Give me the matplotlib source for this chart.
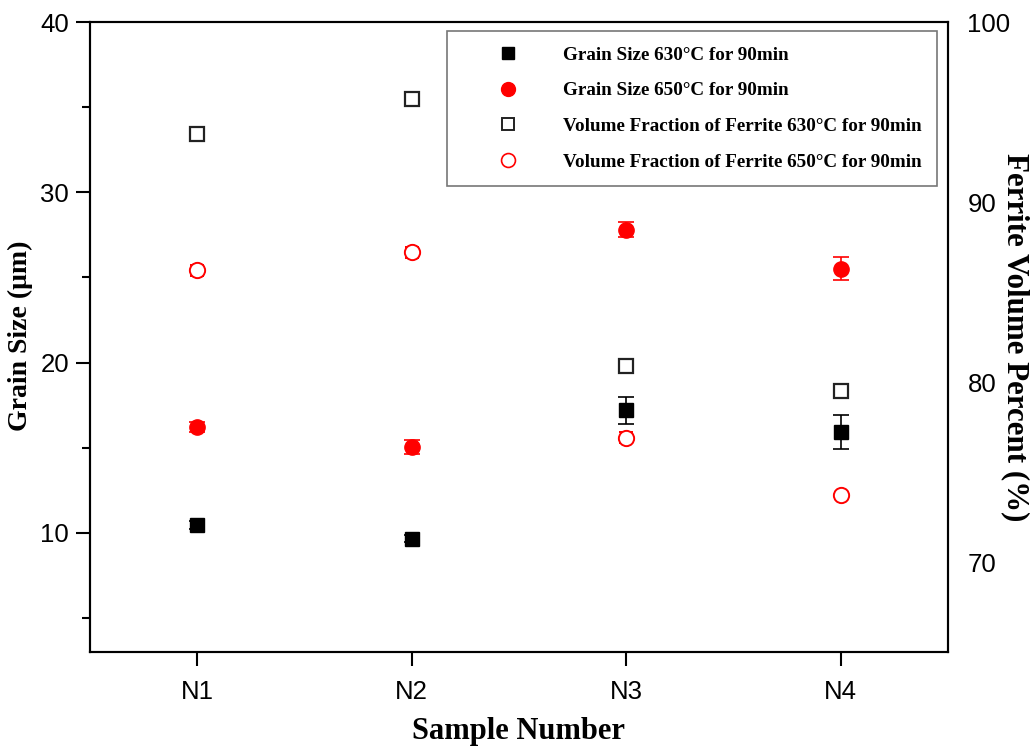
import matplotlib.pyplot as plt
from matplotlib.lines import Line2D
from matplotlib.ticker import MultipleLocator

# Sample positions and labels
samples = ['N1', 'N2', 'N3', 'N4']
x = [1, 2, 3, 4]

# Grain size (um), left axis
grain_630 = [10.45, 9.65, 17.2, 15.9]
grain_630_err = [0.25, 0.2, 0.8, 1.0]
grain_650 = [16.2, 15.05, 27.8, 25.5]
grain_650_err = [0.3, 0.4, 0.45, 0.68]

# Ferrite volume percent, right axis
ferrite_630 = [93.8, 95.7, 80.9, 79.5]
ferrite_630_err = [0.3, 0.2, 0.3, 0.0]
ferrite_650 = [86.2, 87.2, 76.9, 73.7]
ferrite_650_err = [0.3, 0.3, 0.3, 0.2]

legend_labels = ['Grain Size 630\u00b0C for 90min',
                 'Grain Size 650\u00b0C for 90min',
                 'Volume Fraction of Ferrite 630\u00b0C for 90min',
                 'Volume Fraction of Ferrite 650\u00b0C for 90min']

plt.rcParams['font.family'] = 'Liberation Sans'

fig = plt.figure(figsize=(10.36, 7.51), dpi=100)
ax = fig.add_axes([0.0869, 0.1318, 0.8281, 0.8389])
ax2 = ax.twinx()

ax.errorbar(x, grain_630, yerr=grain_630_err, fmt='s', color='black',
            ms=10, capsize=6, elinewidth=1.2, capthick=1.2)
ax.errorbar(x, grain_650, yerr=grain_650_err, fmt='o', color='red',
            ms=11, capsize=6, elinewidth=1.2, capthick=1.2)
ax2.errorbar(x, ferrite_630, yerr=ferrite_630_err, fmt='s', color='#222222',
             mfc='white', mew=1.6, ms=10, capsize=5, elinewidth=1.0, capthick=1.0)
ax2.errorbar(x, ferrite_650, yerr=ferrite_650_err, fmt='o', color='red',
             mfc='white', mew=1.4, ms=11, capsize=5, elinewidth=1.0, capthick=1.0)

# Left axis
ax.set_xlim(0.5, 4.5)
ax.set_ylim(3, 40)
ax.set_xticks(x)
ax.set_xticklabels(samples)
ax.yaxis.set_major_locator(MultipleLocator(10))
ax.yaxis.set_minor_locator(MultipleLocator(5))
ax.tick_params(axis='both', which='major', direction='out', length=10, width=1.5,
               labelsize=18.5, pad=5)
ax.tick_params(axis='y', which='minor', direction='out', length=6, width=1.5)
ax.tick_params(axis='x', which='minor', length=0)
ax.tick_params(axis='x', pad=10)

# Right axis
ax2.set_ylim(65, 100)
ax2.set_yticks([70, 80, 90, 100])
ax2.tick_params(axis='y', length=0, labelsize=18.5, pad=14)

for a in (ax, ax2):
    for s in a.spines.values():
        s.set_linewidth(1.5)

# Axis titles
fig.text(20 / 1036, 1 - 336 / 751, 'Grain Size (\u03bcm)', family='Liberation Serif',
         weight='bold', fontsize=20, rotation=90, ha='center', va='center')
fig.text(519 / 1036, 1 - 731 / 751, 'Sample Number', family='Liberation Serif',
         weight='bold', fontsize=22, ha='center', va='center')
fig.text(1015 / 1036, 1 - 337 / 751, 'Ferrite Volume Percent (%)',
         family='Liberation Serif', weight='bold', fontsize=22.3, rotation=-90,
         ha='center', va='center')

# Legend with marker-only handles
handles = [
    Line2D([], [], ls='none', marker='s', color='black', ms=8.5),
    Line2D([], [], ls='none', marker='o', color='red', ms=10),
    Line2D([], [], ls='none', marker='s', color='#222222', mfc='white', mew=1.4, ms=8.5),
    Line2D([], [], ls='none', marker='o', color='red', mfc='white', mew=1.2, ms=10),
]
leg = ax.legend(handles, legend_labels,
                loc='upper right', bbox_to_anchor=(0.9044, 0.9587),
                bbox_transform=fig.transFigure, frameon=True, fancybox=False,
                edgecolor='#555555', prop={'family': 'Liberation Serif',
                                           'weight': 'bold', 'size': 13.8},
                labelspacing=0.95, handletextpad=0.52, handlelength=4.75,
                borderpad=0.8, borderaxespad=0)
leg.get_frame().set_linewidth(1.2)

fig.savefig('out.png', dpi=100)
